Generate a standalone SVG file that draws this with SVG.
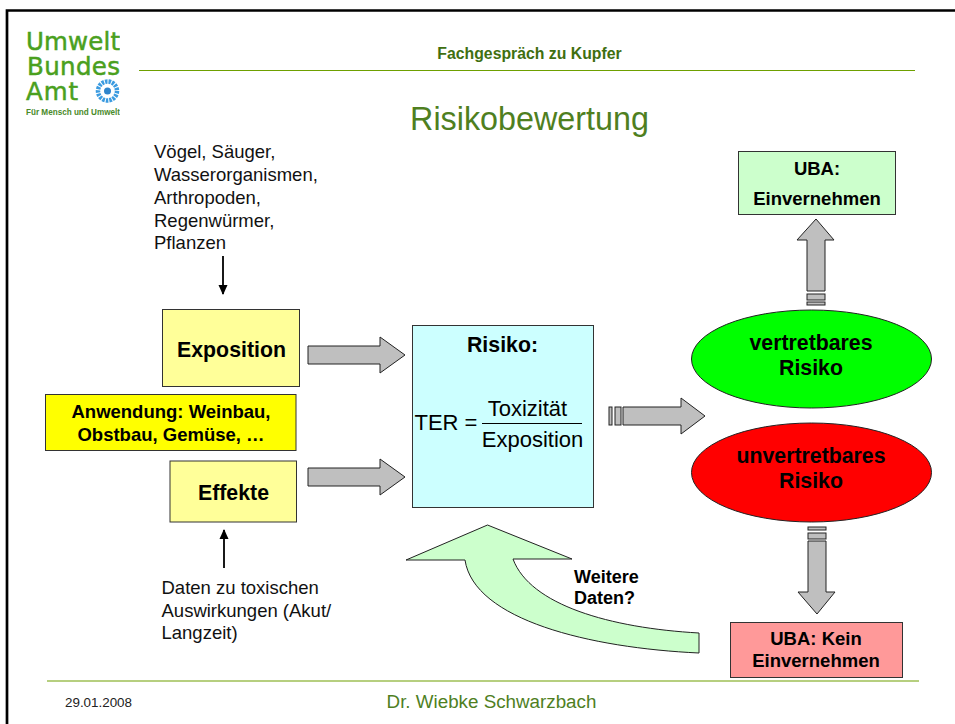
<svg xmlns="http://www.w3.org/2000/svg" width="955" height="724" viewBox="0 0 955 724">
<style>
text{font-family:"Liberation Sans",Arial,sans-serif;fill:#000}
.b{font-weight:bold;text-anchor:middle}
.big{font-size:21.3px}
.mid{font-size:18.5px}
.box{stroke:#333;stroke-width:1}
.ga{fill:#bfbfbf;stroke:#222;stroke-width:1}
.g{fill:#4f7f1f}
.rule{stroke:#6ea000;stroke-width:1.2}
.t{font-size:18.5px;fill:#111}
.f{font-size:22px}
.lg{fill:#4aa01e;stroke:#4aa01e;stroke-width:.5;font-size:24.5px;font-family:"DejaVu Sans",sans-serif}
</style>
<defs>
<marker id="ah" markerWidth="11" markerHeight="11" refX="9" refY="5" orient="auto" markerUnits="userSpaceOnUse"><path d="M0 0.500L10 5L0 9.500Z" fill="#000"/></marker>
<clipPath id="lc"><rect x="20" y="20" width="100" height="100"/></clipPath>
</defs>
<rect width="955" height="724" fill="#fff"/>
<path d="M7 724V10.500H955" fill="none" stroke="#000" stroke-width="2.700"/>
<g id="logo" clip-path="url(#lc)">
<text class="lg" x="26" y="50" textLength="94">Umwelt</text>
<text class="lg" x="27" y="75" textLength="93">Bundes</text>
<text class="lg" x="26" y="100" textLength="52">Amt</text>
<circle cx="107.500" cy="91" r="9.500" fill="none" stroke="#3b9be0" stroke-width="4.500" stroke-dasharray="2.500 1"/>
<circle cx="107.500" cy="91" r="3.500" fill="#2f85cc"/>
<text x="26" y="115" font-size="8.500" font-weight="bold" style="fill:#4a8a2a" textLength="94" lengthAdjust="spacingAndGlyphs">Für Mensch und Umwelt</text>
</g>
<g id="header">
<path class="rule" d="M139 70.500H915"/>
<text class="b" x="529.500" y="59" font-size="15.800" style="fill:#3f6f10">Fachgespräch zu Kupfer</text>
<text x="529.500" y="130" font-size="32.300" text-anchor="middle" class="g">Risikobewertung</text>
</g>
<g id="footer">
<path class="rule" d="M47 681H919"/>
<text x="65" y="706.500" font-size="13.400" style="fill:#222">29.01.2008</text>
<text x="491.500" y="708" font-size="18.800" text-anchor="middle" class="g">Dr. Wiebke Schwarzbach</text>
</g>
<g id="connectors">
<path d="M223 256V294" stroke="#000" stroke-width="1.800" marker-end="url(#ah)"/>
<path d="M224 568V530" stroke="#000" stroke-width="1.800" marker-end="url(#ah)"/>
<path class="ga" d="M308 346H380V337L405 355L380 373V364H308Z"/>
<path class="ga" d="M308 468H380V459L405 477L380 495V486H308Z"/>
<g class="ga"><path d="M623 407H681V398L705 416L681 434V425H623Z"/><rect x="609" y="407" width="3" height="18"/><rect x="615" y="407" width="6" height="18"/></g>
<g class="ga"><path d="M807 291V240H797L816 219L834 240H825V291Z"/><rect x="807" y="294" width="18" height="6"/><rect x="807" y="302" width="18" height="3"/></g>
<g class="ga"><path d="M808 541V592H798L817 614L835 592H826V541Z"/><rect x="808" y="533" width="18" height="6"/><rect x="808" y="527" width="18" height="3"/></g>
<path d="M699 633C610 628 530 605 513 559H572L487.500 525L406 560H465C474 620 590 648 699 653Z" fill="#ccffcc" stroke="#222" stroke-width="1"/>
</g>
<g id="exposition"><rect class="box" x="162.500" y="309.500" width="137" height="77" fill="#ffff99"/><text class="b big" x="231.500" y="357">Exposition</text></g>
<g id="effekte"><rect class="box" x="170" y="461" width="126.500" height="61" fill="#ffff99"/><text class="b big" x="233.500" y="500">Effekte</text></g>
<g id="anwendung"><rect class="box" x="45.500" y="394.500" width="250.500" height="56" fill="#ffff00"/><text class="b mid" x="171" y="418">Anwendung: Weinbau,</text><text class="b mid" x="171" y="440.500">Obstbau, Gemüse, …</text></g>
<g id="risiko"><rect class="box" x="412.500" y="325.500" width="181" height="182" fill="#ccffff"/><text class="b big" x="502.500" y="352">Risiko:</text>
<text class="f" x="414.500" y="430">TER =</text><text class="f" x="527.500" y="416" text-anchor="middle">Toxizität</text><path d="M482 423.500H582" stroke="#000"/><text class="f" x="532.500" y="447" text-anchor="middle">Exposition</text></g>
<g id="uba-ok"><rect class="box" x="738.500" y="151.500" width="157" height="63" fill="#ccffcc"/><text class="b mid" x="817" y="175">UBA:</text><text class="b mid" x="817" y="205">Einvernehmen</text></g>
<g id="vertretbar"><ellipse cx="811.500" cy="359" rx="120" ry="49" fill="#00ff00" stroke="#222"/><text class="b big" x="811" y="350">vertretbares</text><text class="b big" x="811" y="375">Risiko</text></g>
<g id="unvertretbar"><ellipse cx="811.500" cy="472.500" rx="120" ry="49.500" fill="#ff0000" stroke="#222"/><text class="b big" x="811" y="463">unvertretbares</text><text class="b big" x="811" y="488">Risiko</text></g>
<g id="uba-kein"><rect class="box" x="730.500" y="622.500" width="172" height="55" fill="#ff9999"/><text class="b mid" x="816" y="645">UBA: Kein</text><text class="b mid" x="816" y="667">Einvernehmen</text></g>
<g id="labels">
<text class="t" x="154" y="158">Vögel, Säuger,</text>
<text class="t" x="154" y="181">Wasserorganismen,</text>
<text class="t" x="154" y="204">Arthropoden,</text>
<text class="t" x="154" y="226.500">Regenwürmer,</text>
<text class="t" x="154" y="249">Pflanzen</text>
<text class="t" x="161.500" y="594">Daten zu toxischen</text>
<text class="t" x="161.500" y="616.500">Auswirkungen (Akut/</text>
<text class="t" x="161.500" y="639">Langzeit)</text>
<text x="574" y="583" font-size="18" font-weight="bold">Weitere</text>
<text x="574" y="604" font-size="18" font-weight="bold">Daten?</text>
</g>
</svg>
